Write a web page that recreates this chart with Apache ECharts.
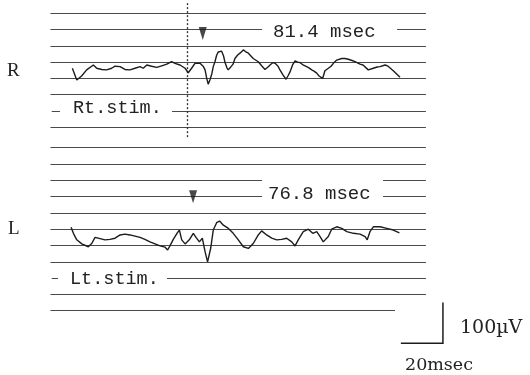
<!DOCTYPE html>
<html>
<head>
<meta charset="utf-8">
<script src="https://cdn.jsdelivr.net/npm/echarts@6/dist/echarts.min.js"></script>
<style>
  html, body { margin: 0; padding: 0; background: #fff; }
  #chart { width: 530px; height: 375px; }
</style>
</head>
<body>
<div id="chart"></div>
<script>
// time in msec, amplitude in µV (each ruled line is 40 µV apart)
const rightTrace = [
  [19.4, 595], [21.5, 566], [23.8, 576], [26.2, 591], [29.4, 603], [31.0, 595], [33.4, 592],
  [35.7, 591], [38.1, 595], [39.7, 600], [42.1, 599], [44.4, 592], [46.8, 591], [49.2, 595],
  [51.6, 599], [53.1, 595], [54.8, 603], [57.1, 600], [59.5, 597], [61.9, 601], [64.3, 605],
  [66.6, 611], [68.2, 607], [70.6, 603], [73.0, 595], [74.5, 584], [76.1, 595], [77.7, 607],
  [80.1, 607], [81.7, 599], [82.5, 591], [83.3, 570], [84.0, 556], [84.8, 566], [85.7, 581],
  [86.4, 599], [87.2, 611], [88.0, 627], [88.8, 635], [90.4, 637], [91.3, 625], [92.0, 609],
  [92.9, 596], [93.5, 591], [94.4, 596], [95.2, 595], [95.8, 605], [96.7, 619], [97.9, 627],
  [99.1, 632], [100.7, 640], [101.7, 636], [103.1, 632], [105.4, 619], [107.8, 611], [109.6, 600],
  [111.0, 592], [112.4, 598], [113.4, 603], [114.8, 609], [115.8, 607], [117.2, 600], [118.1, 591],
  [119.6, 578], [121.0, 568], [121.9, 576], [122.9, 586], [124.1, 603], [125.3, 613], [126.5, 610],
  [127.6, 609], [129.1, 603], [130.8, 599], [131.9, 596], [133.2, 591], [134.3, 588], [135.6, 583],
  [136.7, 576], [138.4, 570], [139.5, 589], [141.1, 595], [142.4, 600], [143.5, 607], [145.1, 615],
  [147.5, 619], [149.0, 619], [150.6, 617], [152.4, 614], [153.8, 611], [156.2, 605], [157.6, 603],
  [158.5, 599], [160.1, 591], [160.9, 594], [162.5, 595], [164.3, 598], [165.7, 599], [168.1, 603],
  [169.5, 600], [170.4, 599], [172.0, 589], [173.6, 581], [175.2, 573]
];
const leftTrace = [
  [18.8, 205], [19.9, 190], [21.5, 174], [23.9, 164], [27.0, 157], [28.6, 165], [30.2, 180],
  [32.6, 177], [34.9, 174], [37.3, 175], [39.7, 178], [42.1, 186], [44.4, 188], [46.8, 186],
  [49.2, 183], [51.6, 180], [53.9, 175], [56.3, 169], [58.7, 164], [61.1, 159], [63.5, 156],
  [64.7, 149], [65.8, 159], [67.4, 175], [69.3, 191], [70.3, 198], [71.4, 174], [73.0, 164],
  [75.0, 174], [76.9, 190], [78.2, 180], [79.8, 169], [81.2, 178], [82.5, 145], [83.7, 120],
  [85.2, 154], [86.4, 198], [88.0, 216], [89.4, 220], [91.2, 210], [93.6, 202], [95.9, 190],
  [98.3, 174], [100.7, 157], [103.1, 153], [105.4, 165], [107.8, 186], [109.4, 196], [111.8, 186],
  [114.2, 178], [116.6, 174], [118.9, 175], [121.3, 178], [123.7, 169], [125.3, 159], [126.8, 174],
  [129.2, 194], [131.6, 200], [133.7, 190], [135.6, 194], [137.2, 182], [138.7, 169], [141.1, 182],
  [142.7, 200], [145.1, 206], [147.5, 202], [149.9, 194], [153.0, 190], [156.2, 188], [158.6, 182],
  [159.6, 174], [160.9, 194], [162.5, 206], [165.7, 206], [168.9, 202], [172.0, 198], [174.9, 191]
];

// ruled lines: [level µV, from msec, to msec]
const ruledLines = [
  [730, 9, 187.5],
  [690, 9, 109.6], [690, 173.8, 187.5],
  [650, 9, 187.5], [610, 9, 187.5], [570, 9, 187.5], [530, 9, 187.5],
  [490, 9.6, 13.5], [490, 66.8, 187.5],
  [450, 9, 187.5], [400, 9, 187.5], [360, 9, 187.5],
  [320, 9, 109.6], [320, 167.1, 187.5],
  [280, 9, 109.6], [280, 167.1, 187.5],
  [240, 9, 187.5], [200, 9, 187.5], [160, 9, 187.5], [120, 9, 187.5],
  [80, 9.6, 12.6], [80, 64.4, 187.5],
  [40, 9, 187.5], [0, 9, 172.8]
];

const stimulusMark = [74.2, 426, 760];          // msec, from µV, to µV
const latencyArrows = [[81.4, 680], [76.8, 280]];
const scaleBarCorner = [195.6, -80];
const scaleBarMs = 20;
const scaleBarUv = 100;

const chart = echarts.init(document.getElementById('chart'), null, { renderer: 'canvas' });

const ink = '#1c1c1c';
const rule = '#4a4a4a';
const mono = '"Liberation Mono", "DejaVu Sans Mono", monospace';
const serif = '"Liberation Serif", "DejaVu Serif", serif';

chart.setOption({
  animation: false,
  backgroundColor: '#fff',
  grid: { left: 0, right: 0, top: 1, height: 350.5 },
  xAxis: { type: 'value', min: -15, max: 237, show: false },
  yAxis: { type: 'value', min: -100, max: 760, show: false },
  series: [
    {
      type: 'lines',
      coordinateSystem: 'cartesian2d',
      silent: true,
      lineStyle: { color: rule, width: 1.1, opacity: 1 },
      data: ruledLines.map(([v, t0, t1]) => ({ coords: [[t0, v], [t1, v]] }))
    },
    {
      type: 'lines',
      coordinateSystem: 'cartesian2d',
      silent: true,
      lineStyle: { color: '#333', width: 1.3, type: [2, 2], opacity: 1 },
      data: [{ coords: [[stimulusMark[0], stimulusMark[1]], [stimulusMark[0], stimulusMark[2]]] }]
    },
    {
      type: 'lines',
      coordinateSystem: 'cartesian2d',
      polyline: true,
      silent: true,
      lineStyle: { color: ink, width: 1.5, opacity: 1 },
      data: [{
        coords: [
          [scaleBarCorner[0] - scaleBarMs, scaleBarCorner[1]],
          scaleBarCorner,
          [scaleBarCorner[0], scaleBarCorner[1] + scaleBarUv]
        ]
      }]
    },
    {
      name: 'R', type: 'line', data: rightTrace, showSymbol: false, silent: true,
      lineStyle: { color: ink, width: 1.4 }
    },
    {
      name: 'L', type: 'line', data: leftTrace, showSymbol: false, silent: true,
      lineStyle: { color: ink, width: 1.4 }
    },
    {
      type: 'scatter', data: latencyArrows, silent: true,
      symbol: 'triangle', symbolRotate: 180, symbolSize: [8, 13],
      itemStyle: { color: ink }
    }
  ],
  graphic: [
    { type: 'text', x: 273, y: 32, style: { text: '81.4 msec', font: '19px ' + mono, fill: '#222', verticalAlign: 'middle' } },
    { type: 'text', x: 268, y: 194, style: { text: '76.8 msec', font: '19px ' + mono, fill: '#222', verticalAlign: 'middle' } },
    { type: 'text', x: 73, y: 108, style: { text: 'Rt.stim.', font: '18.5px ' + mono, fill: '#222', verticalAlign: 'middle' } },
    { type: 'text', x: 70, y: 279, style: { text: 'Lt.stim.', font: '18.5px ' + mono, fill: '#222', verticalAlign: 'middle' } },
    { type: 'text', x: 7, y: 71, style: { text: 'R', font: '19px ' + serif, fill: '#222', verticalAlign: 'middle' } },
    { type: 'text', x: 8, y: 229, style: { text: 'L', font: '19px ' + serif, fill: '#222', verticalAlign: 'middle' } },
    { type: 'text', x: 460, y: 328, style: { text: '100µV', font: '19px "DejaVu Serif", serif', fill: '#222', verticalAlign: 'middle' } },
    { type: 'text', x: 405, y: 365, style: { text: '20msec', font: '17.5px "DejaVu Serif", serif', fill: '#222', verticalAlign: 'middle' } }
  ]
});
</script>
</body>
</html>
